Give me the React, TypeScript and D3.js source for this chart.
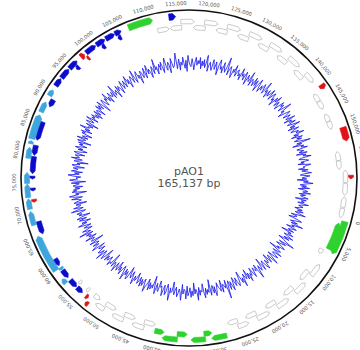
import React from 'react';
import * as d3 from 'd3';

// plasmid size and name
const TOTAL = 165137;
const TITLE = 'pAO1';
const SUBTITLE = '165,137 bp';

// tick labels every 5 kb
const tickValues = d3.range(0, 165000, 5000);

// grey (outlined) ORFs: [start, end, row]
const greyGenes = [
  [6000, 6900, 2],
  [8500, 10800, 1], [10500, 12600, 2], [12400, 14700, 1], [14500, 16500, 2], [16300, 18600, 1],
  [18400, 20400, 2], [20200, 22500, 1], [22300, 24300, 2], [24100, 26000, 1], [25800, 27600, 2],
  [40300, 42300, 2], [42100, 44200, 1], [44000, 46000, 2], [45800, 47900, 1], [47700, 49700, 2],
  [49500, 51200, 1], [51000, 52200, 2],
  [53500, 54000, 2], [55300, 55800, 2],
  [111500, 113500, 2], [113700, 115700, 2], [115600, 117900, 1], [117700, 119800, 2],
  [119600, 121900, 1], [121700, 123700, 2], [123500, 125800, 1], [125600, 127600, 2],
  [127400, 129700, 1], [129500, 131500, 2], [131300, 133600, 1], [133400, 135400, 2],
  [135200, 137500, 1], [137300, 139300, 2], [139100, 141000, 1],
  [142700, 144200, 2], [144300, 145800, 2],
  [146700, 148100, 2], [148200, 149600, 2],
  [153600, 155200, 2], [155300, 156800, 2],
  [156900, 159000, 1], [159200, 161200, 1], [161400, 163200, 1], [163400, 165000, 1],
];

// coloured ORFs: [start, end, row, class, thick]
const colorGenes = [
  [300, 5900, 0, 'green', 1], [800, 5500, 1, 'green', 0],
  [28200, 30700, 0, 'green', 0], [30550, 31900, 1, 'green', 0], [31700, 34100, 0, 'green', 0],
  [34700, 36400, 1, 'green', 0], [36300, 38800, 0, 'green', 0], [38600, 40200, 1, 'green', 0],
  [52100, 52700, 0, 'red', 0], [52800, 53300, 1, 'red', 0],
  [54100, 55300, 1, 'blue', 0], [55500, 57000, 1, 'blue', 0], [57100, 58000, 0, 'lblue', 0],
  [57600, 59100, 1, 'blue', 0], [59200, 59700, 1, 'lblue', 0], [60100, 61400, 1, 'blue', 0],
  [59700, 66000, 0, 'lblue', 1], [66100, 68300, 1, 'blue', 0], [67900, 70200, 0, 'lblue', 0],
  [70600, 72300, 0, 'lblue', 0], [71600, 72100, 1, 'red', 0], [72500, 74700, 0, 'lblue', 0],
  [73500, 74000, 1, 'blue', 0], [74800, 76600, 0, 'lblue', 0], [75500, 76000, 1, 'blue', 0],
  [76400, 79300, 1, 'blue', 0], [78900, 80700, 0, 'lblue', 0], [79500, 81200, 1, 'blue', 0],
  [81300, 81800, 0, 'lblue', 0], [82100, 85300, 1, 'blue', 0], [82100, 86200, 0, 'lblue', 1],
  [86700, 88500, 0, 'lblue', 0], [88100, 89400, 1, 'blue', 0], [89700, 90800, 0, 'lblue', 0],
  [91600, 93000, 0, 'blue', 0], [93200, 95000, 0, 'blue', 0], [95200, 96900, 0, 'blue', 0],
  [95900, 96500, 1, 'blue', 0],
  [97800, 98500, 0, 'red', 1], [98400, 98800, 1, 'red', 0],
  [98900, 100800, 0, 'blue', 0], [101000, 102600, 0, 'blue', 0], [102800, 104400, 0, 'blue', 0],
  [104500, 105600, 0, 'blue', 0], [101500, 102100, 1, 'blue', 0], [104600, 105200, 1, 'blue', 0],
  [106900, 111000, 0, 'green', 1],
  [113700, 114800, 0, 'blue', 1],
  [142100, 142900, 0, 'red', 1],
  [149900, 152200, 0, 'red', 1],
  [157800, 158400, 0, 'red', 0],
];

// GC content deviation, 720 windows
const gcValues = [
  1, -2, 3, 0, 4, -1, 2, 6, -3, 1, 0, -4, 2, 5, 1, -2, 3, -1, 7, 0, 2, -3, 4, 1, -1, 3, -5, 2, 0, 4, -2, 1, 5, -1, 3, -4, 0, 2, 8, -2,
  3, 0, -3, 2, 4, -1, 1, -6, 3, 2, -2, 5, 0, -1, 4, 2, -3, 1, 6, -2, 0, 3, -4, 1, 2, -1, 5, 3, -2, 0, 4, -5, 1, 3, -1, 2, 7, -3, 1, 0,
  -2, 4, 1, -3, 2, 0, 5, -1, 3, -4, 2, 1, -2, 6, 0, 3, -1, -5, 2, 4, 1, -2, 3, 0, -3, 5, 2, -1, 4, -2, 1, 9, -3, 2, 0, -1, 4, -4, 3, 1,
  0, -3, 2, 5, -1, 3, -2, 1, 4, -6, 2, 0, 3, -1, 5, 2, -4, 1, 0, 3, -2, 6, 1, -1, 2, -5, 3, 0, 4, -2, 1, 3, -3, 5, 0, -1, 2, -4, 6, 1,
  -1, 2, 4, -2, 0, 3, -5, 1, 2, -1, 7, 0, -3, 2, 4, -2, 1, 5, -1, 0, -4, 3, 2, -2, 5, 1, -6, 2, 0, 3, -1, 4, -3, 1, 2, 6, -2, 0, 3, -1,
  4, -2, 1, 3, -4, 0, 2, -1, 5, 1, -3, 2, 0, -5, 3, 4, -1, 2, -2, 6, 1, -3, 0, 4, -1, 2, -4, 3, 1, -2, 5, 0, -1, 3, -6, 2, 1, 4, -2, 0,
  2, -1, 3, -5, 1, 4, 0, -2, 6, -1, 2, 3, -3, 0, 1, -4, 5, 2, -1, 3, -2, 0, 4, -6, 2, 1, -1, 5, -3, 2, 0, 3, -2, 7, -1, 1, 4, -3, 0, 2,
  -3, 1, 5, -1, 2, -4, 0, 3, -2, 4, 1, -5, 2, 0, 3, -1, -3, 6, 1, -2, 4, 0, -1, 2, -5, 3, 1, -2, 0, 4, -3, 2, 5, -1, 1, -6, 3, 0, 2, -2,
  1, -4, 2, 0, -2, 3, -6, 1, 4, -1, 0, -3, 2, 5, -2, 1, -4, 3, 0, -1, 2, -5, 1, 3, -2, 0, -7, 2, 1, -3, 4, -1, 0, 2, -4, 1, 3, -2, -5, 1,
  -2, 3, 0, -4, 1, -1, 2, -6, 3, 0, -2, 4, -3, 1, -1, -5, 2, 0, 3, -4, 1, -2, 5, -1, 0, -3, 2, -6, 1, 3, -2, 0, 4, -4, 1, -1, 2, -3, 0, -5,
  2, -3, 1, 0, -5, 3, -1, 2, -2, 4, 0, -6, 1, 3, -1, -3, 2, 0, 5, -2, 1, -4, 3, 0, -1, 2, -3, 6, -2, 0, 1, -5, 3, -1, 2, 0, -4, 1, 4, -2,
  0, 3, -2, 1, 5, -1, 2, -4, 0, 3, 1, -2, 6, 0, -3, 2, 4, -1, 1, -5, 3, 2, -2, 0, 4, -3, 1, 5, -1, 2, 0, -4, 3, 1, -2, 7, 0, 2, -3, 1,
  3, -1, 4, 1, -3, 2, 6, 0, -2, 3, 1, -4, 5, 2, -1, 0, 3, 8, -2, 1, 4, -3, 2, 0, 5, 1, -2, 3, -4, 6, 2, 0, -1, 4, 1, -3, 2, 5, 0, 3,
  1, 5, -2, 3, 0, 4, -1, 2, 7, -3, 1, 3, 0, -2, 5, 2, -1, 4, 1, -4, 3, 6, 0, 2, -2, 5, 1, -1, 3, 9, -2, 2, 4, 0, -3, 3, 1, 6, -1, 2,
  4, 0, 2, -2, 6, 1, 3, -1, 5, 2, -3, 4, 1, 0, 7, -2, 3, 2, -1, 5, 0, 4, -3, 2, 6, 1, -2, 3, 0, 5, 2, -1, 8, 1, 3, -2, 4, 0, 2, 6,
  -1, 3, 5, 0, 2, -3, 4, 1, 6, -1, 3, 0, -2, 5, 2, 4, -1, 3, 8, 0, 2, -3, 1, 5, 3, -1, 4, 2, 0, 6, -2, 3, 1, 5, -1, 2, 7, 0, 3, -2,
  5, 1, -1, 4, 2, 7, 0, 3, -2, 5, 1, 4, -1, 2, 9, 0, 3, -3, 4, 2, 6, -1, 1, 3, 0, 5, -2, 4, 2, 7, 1, -1, 3, 5, 0, 2, -2, 6, 3, 1,
  2, -2, 4, 0, 3, 6, 1, -1, 5, 2, 0, 3, -3, 4, 1, 7, 2, -1, 3, 0, 5, -2, 2, 4, 1, 6, -1, 3, 0, 2, 5, -3, 4, 1, 3, -1, 6, 2, 0, 3,
];

const COLORS = { green: '#2fd12f', blue: '#0b0bcc', lblue: '#3ea6dc', red: '#e01414' };

const W = 360, H = 350;
const CX = 189, CY = 178;
const R = 168;
const ROW_R = [162, 156.5, 150.5];
const OFFSET = (105 * Math.PI) / 180;

const angle = d3.scaleLinear().domain([0, TOTAL]).range([OFFSET, OFFSET + 2 * Math.PI]);
const gcRadius = d3.scaleLinear().domain([-10, 10]).range([97, 129]);

const pt = (r, a) => [r * Math.sin(a), -r * Math.cos(a)];

function genePath(start, end, row, strand, h) {
  const a0 = angle(start), a1 = angle(end);
  const r = ROW_R[row];
  const ro = r + h / 2, ri = r - h / 2;
  const tip = Math.min((a1 - a0) * 0.45, 3 / r);
  const q = -Math.PI / 2;
  const p = d3.path();
  if (strand > 0) {
    p.moveTo(...pt(ri, a0));
    p.lineTo(...pt(ro, a0));
    p.arc(0, 0, ro, a0 + q, a1 - tip + q, false);
    p.lineTo(...pt(r, a1));
    p.lineTo(...pt(ri, a1 - tip));
    p.arc(0, 0, ri, a1 - tip + q, a0 + q, true);
  } else {
    p.moveTo(...pt(r, a0));
    p.lineTo(...pt(ro, a0 + tip));
    p.arc(0, 0, ro, a0 + tip + q, a1 + q, false);
    p.lineTo(...pt(ri, a1));
    p.arc(0, 0, ri, a1 + q, a0 + tip + q, true);
  }
  p.closePath();
  return p.toString();
}

export default function App() {
  const gcLine = d3
    .lineRadial()
    .angle((d, i) => angle((i * TOTAL) / gcValues.length))
    .radius((d) => gcRadius(d))
    .curve(d3.curveLinearClosed);

  const fmt = d3.format(',');

  return (
    <svg width={W} height={H} style={{ position: 'absolute', left: 0, top: 0, background: '#fff' }}
      fontFamily="DejaVu Sans, sans-serif">
      <g transform={`translate(${CX},${CY})`}>
        <circle r={R} fill="none" stroke="#111" strokeWidth={1.6} />
        {tickValues.map((v) => (
          <text key={v} transform={`rotate(${(angle(v) * 180) / Math.PI}) translate(0,${-(R + 5)})`}
            textAnchor="middle" fontSize={5.2} fill="#555">{fmt(v)}</text>
        ))}
        {greyGenes.map(([s, e, row], i) => (
          <path key={'g' + i} d={genePath(s, e, row, i % 2 ? -1 : 1, 4.5)}
            fill="#fff" stroke="#c4c4c4" strokeWidth={0.9} strokeLinejoin="round" />
        ))}
        {colorGenes.map(([s, e, row, cls, thick], i) => (
          <path key={'c' + i} d={genePath(s, e, row, row === 0 ? 1 : -1, thick ? 6.5 : 5)}
            fill={COLORS[cls]} stroke={COLORS[cls]} strokeWidth={0.6} strokeLinejoin="round" />
        ))}
        <path d={gcLine(gcValues)} fill="none" stroke="#1414e8" strokeWidth={0.8} />
        <text y={-3} textAnchor="middle" fontSize={11} fill="#555">{TITLE}</text>
        <text y={9} textAnchor="middle" fontSize={11} fill="#555">{SUBTITLE}</text>
      </g>
    </svg>
  );
}
